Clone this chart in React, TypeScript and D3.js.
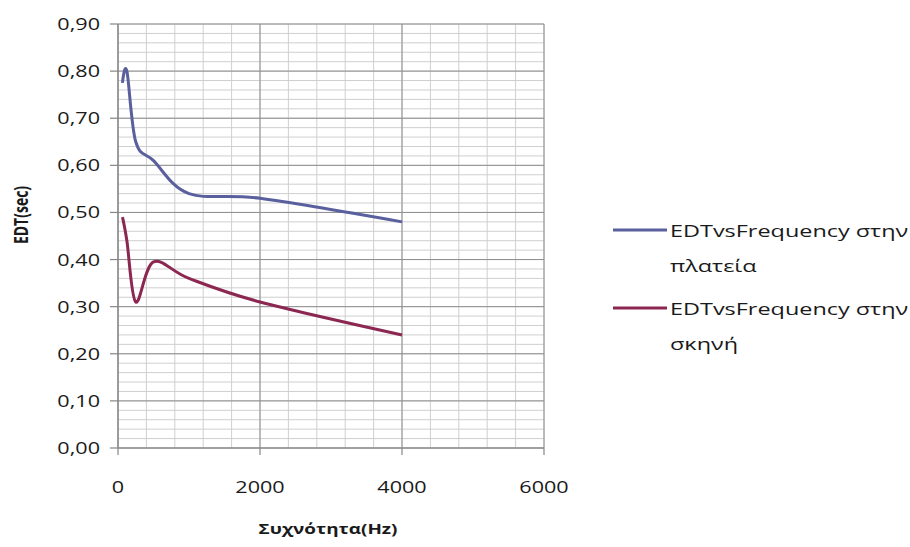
import * as d3 from "d3";

// octave band centres (Hz) and EDT values
const frequencies = [63, 125, 250, 500, 1000, 2000, 4000];
const edtPlateia = [0.775, 0.8, 0.65, 0.61, 0.54, 0.53, 0.48];
const edtSkini = [0.49, 0.44, 0.31, 0.395, 0.36, 0.31, 0.24];

const xTicks = [0, 2000, 4000, 6000];
const yTicks = [0, 0.1, 0.2, 0.3, 0.4, 0.5, 0.6, 0.7, 0.8, 0.9];

const seriesNames = ["EDTvsFrequency στην πλατεία", "EDTvsFrequency στην σκηνή"];
const seriesLines = [
  ["EDTvsFrequency στην", "πλατεία"],
  ["EDTvsFrequency στην", "σκηνή"],
];
const seriesColors = ["#5a5f9e", "#8c2752"];

const W = 910;
const H = 547;
const M = { left: 118, right: 544, top: 24, bottom: 448 };
const SX = 1.35; // the reference is stretched horizontally
const FONT = "'Open Sans', sans-serif";

export default function App() {
  const x = d3.scaleLinear().domain([0, 6000]).range([M.left, M.right]);
  const y = d3.scaleLinear().domain([0, 0.9]).range([M.bottom, M.top]);

  const minorX = d3.range(0, 6001, 400);
  const minorY = d3.range(0, 0.9001, 0.02);

  const line = d3
    .line<number>()
    .x((_, i) => x(frequencies[i]))
    .y((d) => y(d))
    .curve(d3.curveCardinal.tension(0));

  const series = [edtPlateia, edtSkini];
  const fmt = (v: number) => v.toFixed(2).replace(".", ",");

  return (
    <svg width={W} height={H} style={{ position: "absolute", left: 0, top: 0, background: "#fff" }}>
      {/* minor grid */}
      <g stroke="#cfcfcf" strokeWidth={1}>
        {minorX.map((v) => (
          <line key={"mx" + v} x1={x(v)} x2={x(v)} y1={M.top} y2={M.bottom} />
        ))}
        {minorY.map((v) => (
          <line key={"my" + v} x1={M.left} x2={M.right} y1={y(v)} y2={y(v)} />
        ))}
      </g>
      {/* major grid */}
      <g stroke="#8e8e8e" strokeWidth={1}>
        {xTicks.map((v) => (
          <line key={"gx" + v} x1={x(v)} x2={x(v)} y1={M.top} y2={M.bottom} />
        ))}
        {yTicks.map((v) => (
          <line key={"gy" + v} x1={M.left} x2={M.right} y1={y(v)} y2={y(v)} />
        ))}
      </g>
      {/* axes + tick marks */}
      <g stroke="#868686" strokeWidth={1.2}>
        <line x1={M.left} x2={M.left} y1={M.top} y2={M.bottom} />
        <line x1={M.left} x2={M.right} y1={M.bottom} y2={M.bottom} />
        {yTicks.map((v) => (
          <line key={"ty" + v} x1={M.left - 8} x2={M.left} y1={y(v)} y2={y(v)} />
        ))}
        {xTicks.map((v) => (
          <line key={"tx" + v} x1={x(v)} x2={x(v)} y1={M.bottom} y2={M.bottom + 7} />
        ))}
      </g>

      {/* series */}
      {series.map((s, i) => (
        <path key={i} d={line(s) || ""} fill="none" stroke={seriesColors[i]} strokeWidth={3} />
      ))}

      {/* tick labels */}
      <g fontFamily={FONT} fontSize={16} fill="#1a1a1a">
        {yTicks.map((v) => (
          <text key={"ly" + v} transform={`translate(${M.left - 18},${y(v) + 6}) scale(${SX},1)`} textAnchor="end">
            {fmt(v)}
          </text>
        ))}
        {xTicks.map((v) => (
          <text key={"lx" + v} transform={`translate(${x(v)},${M.bottom + 45}) scale(${SX},1)`} textAnchor="middle">
            {v}
          </text>
        ))}
      </g>

      {/* axis titles */}
      <text
        transform={`translate(28,215) scale(${SX},1) rotate(-90)`}
        textAnchor="middle"
        fontFamily={FONT}
        fontSize={14}
        fontWeight="bold"
        fill="#1a1a1a"
      >
        EDT(sec)
      </text>
      <text
        transform={`translate(328,534) scale(${SX},1)`}
        textAnchor="middle"
        fontFamily={FONT}
        fontSize={14}
        fontWeight="bold"
        fill="#1a1a1a"
      >
        Συχνότητα(Hz)
      </text>

      {/* legend */}
      {seriesNames.map((name, i) => {
        const ly = 230 + i * 78;
        return (
          <g key={name}>
            <line x1={613} x2={667} y1={ly} y2={ly} stroke={seriesColors[i]} strokeWidth={3} />
            {seriesLines[i].map((t, j) => (
              <text
                key={j}
                transform={`translate(670,${ly + 7 + j * 35}) scale(1.42,1)`}
                fontFamily={FONT}
                fontSize={16.5}
                fill="#1a1a1a"
              >
                {t}
              </text>
            ))}
          </g>
        );
      })}
    </svg>
  );
}
